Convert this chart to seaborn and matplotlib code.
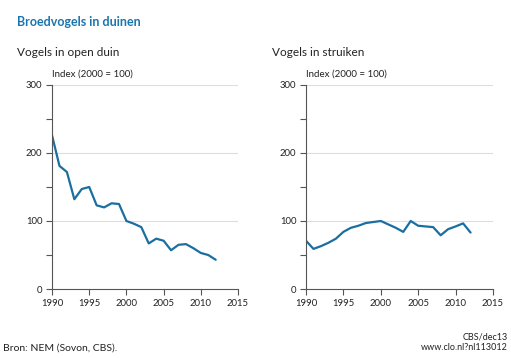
import pandas as pd
import matplotlib.pyplot as plt
import seaborn as sns

# index values (2000 = 100)
years = list(range(1990, 2013))
open_duin = [226, 181, 172, 132, 147, 150, 123, 120, 126, 125, 100, 96, 91,
             67, 74, 71, 57, 65, 66, 60, 53, 50, 43]
struiken = [71, 59, 63, 68, 74, 84, 90, 93, 97, 98.5, 100, 95, 90,
            84, 100, 93, 92, 91, 79, 88, 92, 96.5, 83]
panel_titles = ['Vogels in open duin', 'Vogels in struiken']

sns.set_style('white')
plt.rcParams['font.family'] = ['Lato', 'DejaVu Sans']

line_color = '#1b6fa0'
axis_color = '#555555'

fig = plt.figure(figsize=(5.11, 3.58), dpi=100)
ax1 = fig.add_axes([0.1018, 0.1927, 0.364, 0.570])
ax2 = fig.add_axes([0.5988, 0.1927, 0.366, 0.570])

for ax, vals, title, xt in [(ax1, open_duin, panel_titles[0], 17),
                            (ax2, struiken, panel_titles[1], 272)]:
    df = pd.DataFrame({'jaar': years, 'index': vals})
    sns.lineplot(data=df, x='jaar', y='index', ax=ax, color=line_color, linewidth=1.6)
    ax.set_xlim(1990, 2015)
    ax.set_ylim(0, 300)
    ax.set_xticks(range(1990, 2016, 5))
    ax.set_yticks([0, 100, 200, 300])
    ax.set_yticks([50, 150, 250], minor=True)
    ax.set_xlabel('')
    ax.set_ylabel('')
    for y in [100, 200, 300]:
        ax.axhline(y, color='#dddddd', linewidth=0.8, zorder=0)
    for s in ['top', 'right']:
        ax.spines[s].set_visible(False)
    for s in ['left', 'bottom']:
        ax.spines[s].set_color(axis_color)
        ax.spines[s].set_linewidth(0.8)
    ax.tick_params(axis='both', which='major', length=4, width=0.8, color=axis_color,
                   labelsize=6.8, labelcolor='#222222', pad=3, left=True, bottom=True)
    ax.tick_params(axis='y', which='minor', length=4, width=0.8, color=axis_color, left=True)
    ax.patch.set_alpha(0)
    fig.text(xt / 511, 1 - 52 / 358, title, fontsize=8.5, color='#222222', va='center')
    ax.text(0, 1.03, 'Index (2000 = 100)', transform=ax.transAxes,
            fontsize=7, color='#222222', va='bottom', ha='left')

fig.text(17 / 511, 1 - 22 / 358, 'Broedvogels in duinen', fontsize=9, fontweight='bold',
         color='#1a75b0', va='center')
fig.text(3 / 511, 1 - 348 / 358, 'Bron: NEM (Sovon, CBS).', fontsize=7.5, color='#222222',
         va='center')
fig.text(508 / 511, 1 - 337 / 358, 'CBS/dec13', fontsize=6.5, color='#222222',
         va='center', ha='right')
fig.text(508 / 511, 1 - 348 / 358, 'www.clo.nl?nl113012', fontsize=6.5, color='#222222',
         va='center', ha='right')

fig.savefig('out.png', dpi=100)
